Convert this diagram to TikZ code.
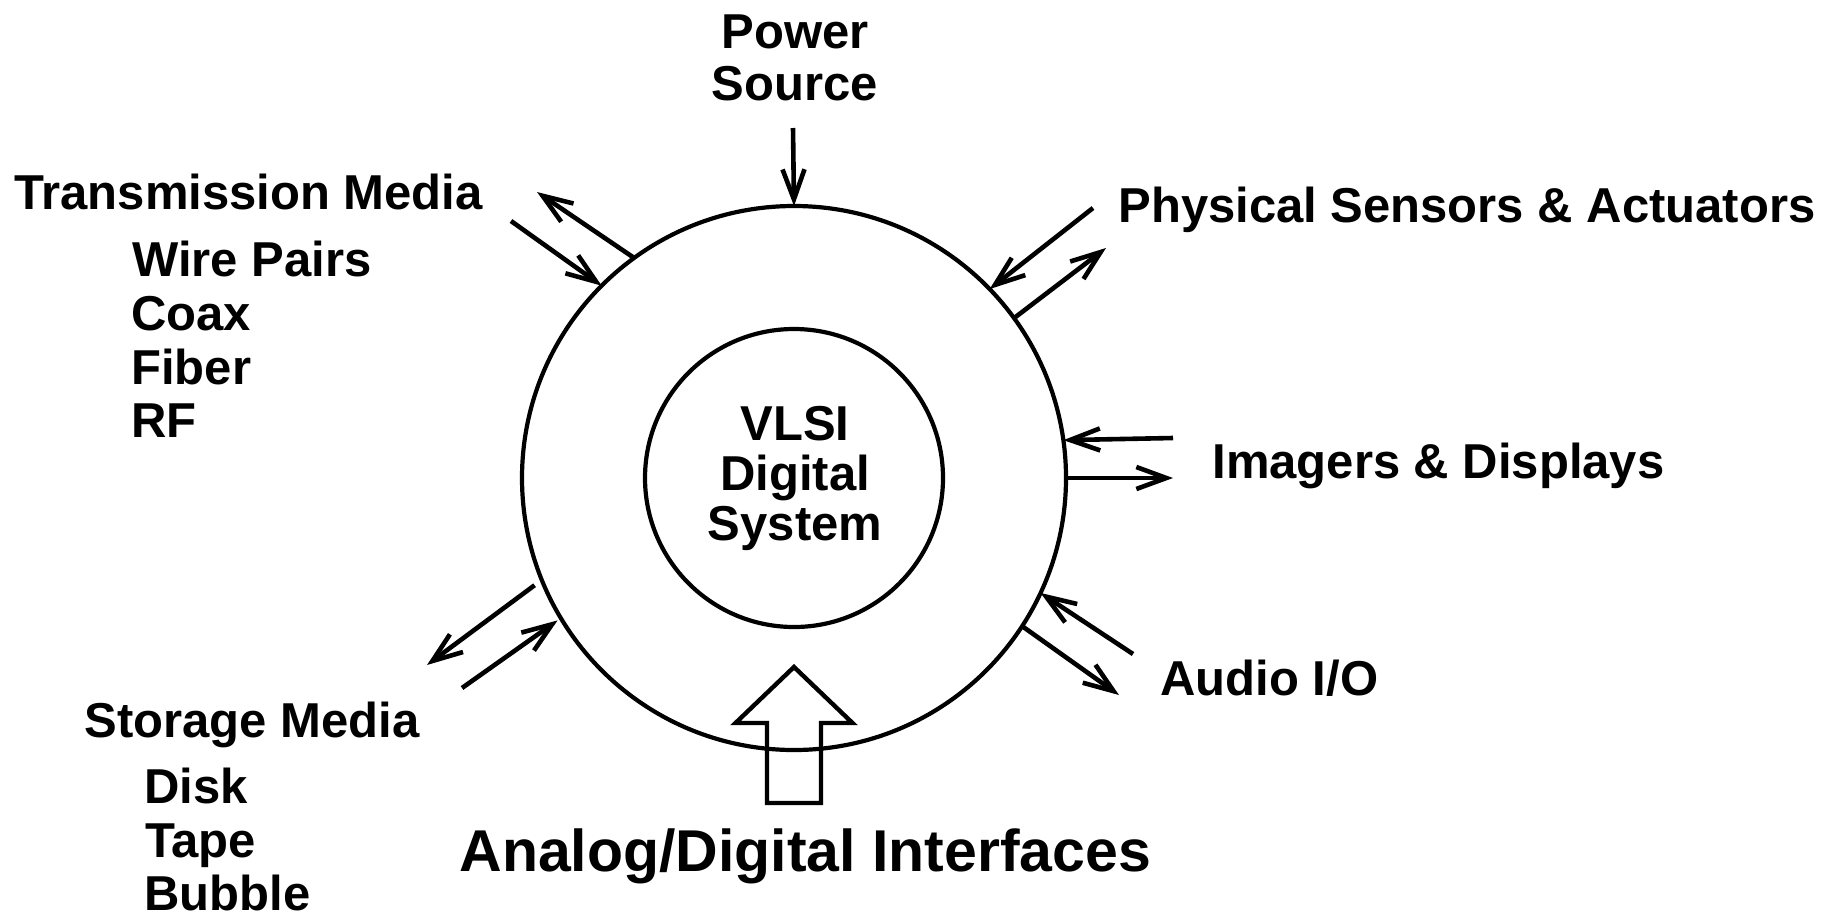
\documentclass[tikz,border=0pt]{standalone}
\usepackage{fontspec}
\setmainfont{Liberation Sans}
\usetikzlibrary{arrows.meta}

\begin{document}
\begin{tikzpicture}[x=0.5pt,y=-0.5pt,
  lbl/.style={font=\fontsize{24.5}{27}\selectfont\bfseries, inner sep=0pt, anchor=base west},
  ctr/.style={lbl, anchor=base},
  biglbl/.style={lbl, font=\fontsize{29.5}{32}\selectfont\bfseries},
  ringstyle/.style={draw, circle, line width=2.1pt, inner sep=0pt, outer sep=0pt},
  io/.style={line width=2.3pt, -{Straight Barb[length=15pt,width=11pt]}}]

\useasboundingbox (0,0) rectangle (1829,916);

% Rings
\node[ringstyle, minimum size=272pt] (ring) at (794,478) {};
\node[ringstyle, minimum size=149pt] (core) at (794,478) {};

% Core text
\node[ctr] (vlsi) at (795,440) {VLSI};
\node[ctr] (digital) at (795,490) {Digital};
\node[ctr] (system) at (795,540) {System};

% Power
\node[ctr] (power) at (795,48) {Power};
\node[ctr] (source) at (795,100) {Source};
\coordinate (pwrin) at (793,128);
\draw[io] (pwrin) -- (ring.90);

% Transmission media
\node[lbl] (tm) at (14,209) {Transmission Media};
\node[lbl] (wire) at (132,276) {Wire Pairs};
\node[lbl] (coax) at (131,330) {Coax};
\node[lbl] (fiber) at (131,384) {Fiber};
\node[lbl] (rf) at (131,437) {RF};
\coordinate (tmout) at (537,192);
\coordinate (tmin) at (511,221);
\draw[io] (ring.126.8) -- (tmout);
\draw[io] (tmin) -- (ring.135.1);

% Sensors
\node[lbl] (sensors) at (1118,222) {Physical Sensors \& Actuators};
\coordinate (psin) at (1093,208);
\coordinate (psout) at (1106,248);
\draw[io] (psin) -- (ring.44.7);
\draw[io] (ring.36.7) -- (psout);

% Imagers
\node[lbl] (imagers) at (1212,478) {Imagers \& Displays};
\coordinate (idin) at (1173,438);
\coordinate (idout) at (1173,478);
\draw[io] (idin) -- (ring.8.5);
\draw[io] (ring.east) -- (idout);

% Audio
\node[lbl] (audio) at (1160,695) {Audio I/O};
\coordinate (auin) at (1133,654);
\coordinate (auout) at (1119,695);
\draw[io] (auin) -- (ring.335.8);
\draw[io] (ring.327) -- (auout);

% Storage media
\node[lbl] (sm) at (84,737) {Storage Media};
\node[lbl] (disk) at (144,803) {Disk};
\node[lbl] (tape) at (145,857) {Tape};
\node[lbl] (bubble) at (144,910) {Bubble};
\coordinate (smout) at (427,665);
\coordinate (smin) at (462,688);
\draw[io, shorten <=4.5pt] (ring.202.3) -- (smout);
\draw[io, shorten >=2pt] (smin) -- (ring.211.2);

% Interfaces
\draw[line width=2.2pt] (794,667) -- (852.5,723) -- (821,723) -- (821,803) -- (767,803) -- (767,723) -- (735.5,723) -- cycle;
\node[biglbl] (adi) at (459,871) {Analog/Digital Interfaces};

\end{tikzpicture}
\end{document}
